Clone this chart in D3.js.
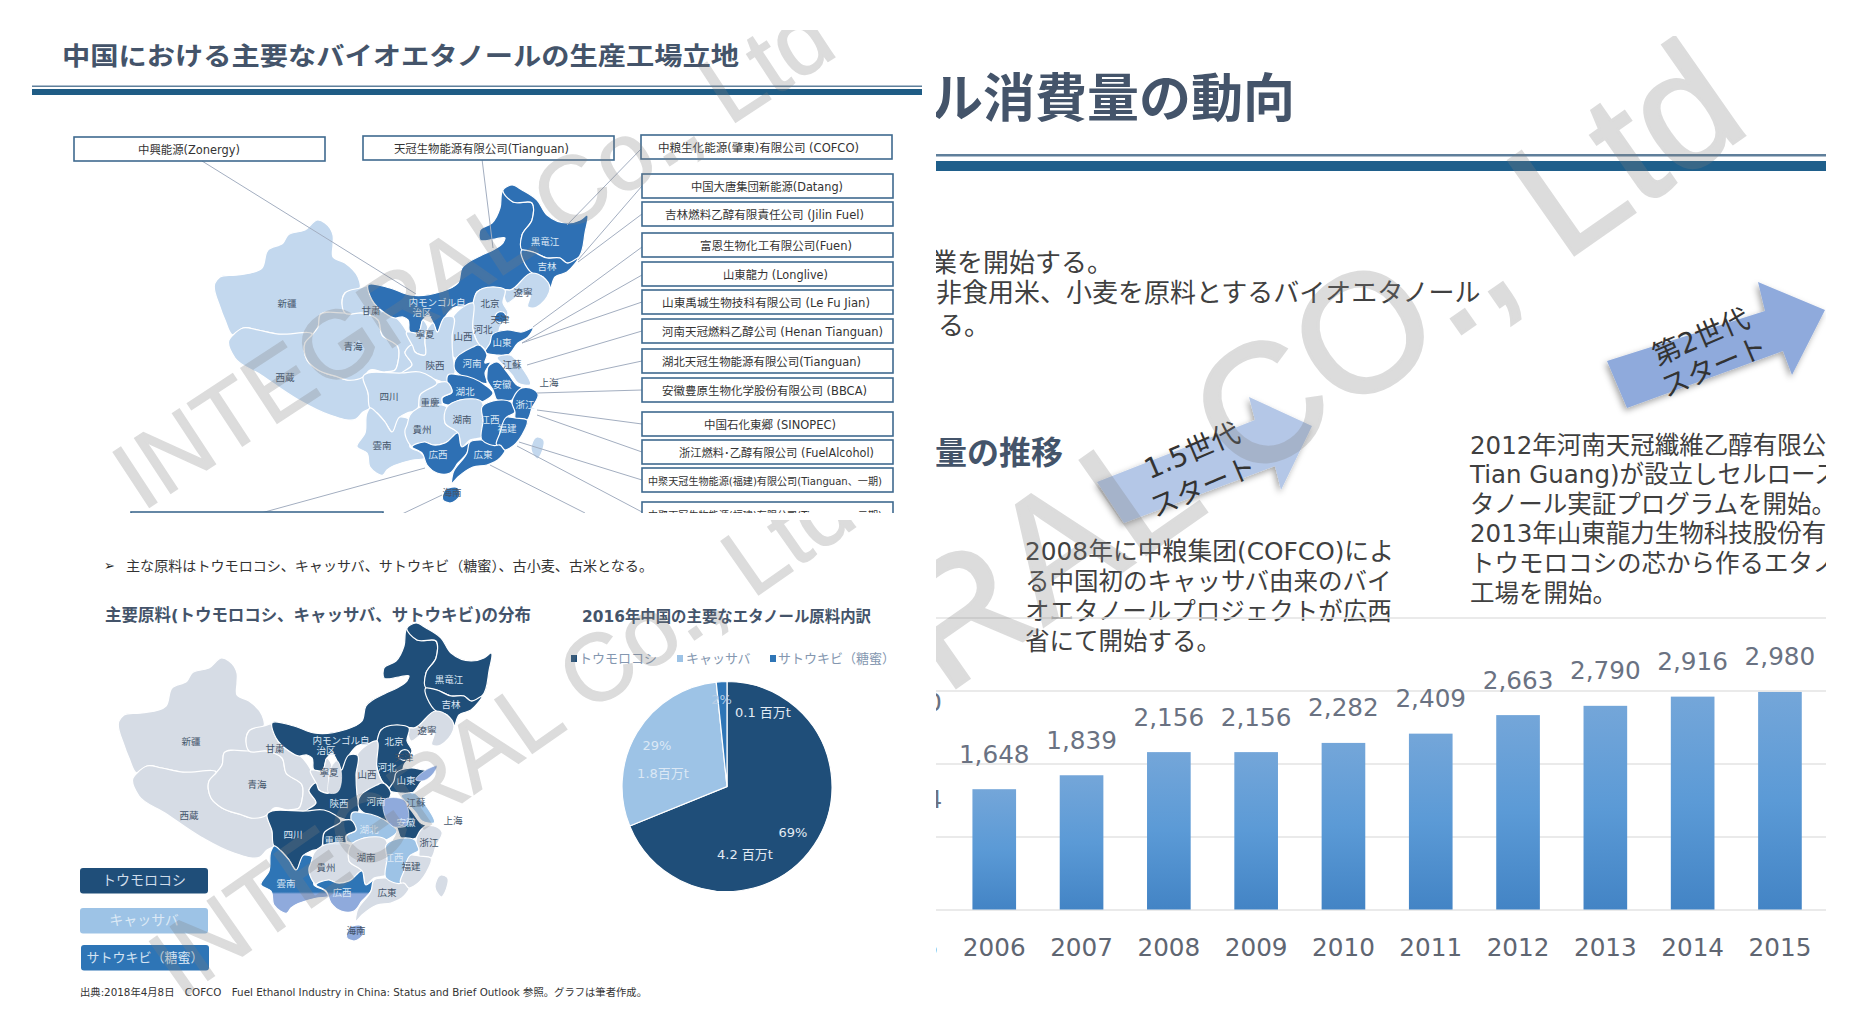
<!DOCTYPE html>
<html lang="ja"><head><meta charset="utf-8">
<script src="https://cdn.jsdelivr.net/npm/d3@7/dist/d3.min.js"></script>
<style>
html,body{margin:0;padding:0;background:#fff;overflow:hidden}
svg{display:block}
text{font-family:"DejaVu Sans","Noto Sans CJK JP",sans-serif}
</style></head><body><svg id="c" width="1862" height="1028"></svg>
<script>
// ---------- chart data ----------
const years = ["2005","2006","2007","2008","2009","2010","2011","2012","2013","2014","2015"];
const consumption = [1024,1648,1839,2156,2156,2282,2409,2663,2790,2916,2980];
const gridTicks = [0,1000,2000,3000,4000];
const pieNames = ["トウモロコシ","キャッサバ","サトウキビ（糖蜜）"];
const pieValues = [4.2,1.8,0.1];
const pieColors = ["#1f4e79","#9dc3e6","#2e75b6"];
const pieLabels = [["69%","4.2 百万t"],["29%","1.8百万t"],["2%","0.1 百万t"]];

const companies = [
 "中興能源(Zonergy)","天冠生物能源有限公司(Tianguan)","中粮生化能源(肇東)有限公司 (COFCO)",
 "中国大唐集団新能源(Datang)","吉林燃料乙醇有限責任公司 (Jilin Fuel)","富恩生物化工有限公司(Fuen)",
 "山東龍力 (Longlive)","山東禹城生物技科有限公司 (Le Fu Jian)","河南天冠燃料乙醇公司 (Henan Tianguan)",
 "湖北天冠生物能源有限公司(Tianguan)","安徽豊原生物化学股份有限公司 (BBCA)","中国石化東郷 (SINOPEC)",
 "浙江燃料･乙醇有限公司 (FuelAlcohol)","中聚天冠生物能源(福建)有限公司(Tianguan、一期)","中聚天冠生物能源(福建)有限公司(Tianguan、二期)"];
const companyBoxes = [[74,137],[363,136],[641,135],[642,174],[642,202],[642,233],[642,262],[642,290],[642,319],[642,349],[642,378],[642,412],[642,440],[642,468],[642,502]];
const companyTextSpan = [[138,240],[394,569],[658,859],[691,843],[665,864],[700,852],[723,828],[662,870],[662,883],[662,861],[662,867],[704,836],[679,874],[648,882],[648,882]];
const leaders = [[[202,161],[416,294]],[[482,159],[493,248]],[[641,149],[567,225]],[[642,186],[578,260]],[[642,214],[578,262]],[[642,247],[533,327]],[[642,275],[522,343]],[[642,302],[522,343]],[[642,331],[527,365]],[[642,361],[553,380]],[[642,390],[537,393]],[[642,424],[537,410]],[[642,452],[537,415]],[[642,480],[519,442]],[[642,512],[517,446]],[[261,513],[425,468]],[[402,514],[442,495]],[[585,513],[490,465]]];

// ---------- province outlines (map units) ----------
const provinces = {
 "新疆":[[318,220],[325,223],[333,235],[333,245],[333,257],[345,263],[358,277],[360,288],[345,293],[342,303],[345,313],[320,315],[318,327],[312,335],[277,334],[258,330],[243,328],[233,335],[225,320],[220,307],[215,283],[220,277],[238,275],[262,268],[268,250],[283,243],[288,235],[305,230]],
 "西蔵":[[233,335],[243,328],[258,330],[277,334],[312,335],[305,343],[307,360],[318,370],[338,377],[347,380],[363,377],[368,393],[370,408],[363,412],[356,419],[330,415],[297,399],[261,375],[235,358],[229,340]],
 "青海":[[312,335],[318,327],[320,315],[345,313],[363,313],[378,320],[382,335],[398,347],[398,362],[395,370],[385,372],[370,370],[363,377],[347,380],[338,377],[318,370],[307,360],[305,343]],
 "甘粛":[[345,293],[360,288],[368,286],[372,300],[385,313],[395,317],[407,332],[412,345],[405,352],[412,365],[402,373],[385,372],[395,370],[398,362],[398,347],[382,335],[378,320],[363,313],[345,313],[342,303]],
 "内モンゴル":[[368,285],[390,288],[410,295],[440,292],[458,283],[462,268],[482,255],[493,250],[503,243],[505,238],[495,239],[480,240],[480,230],[492,223],[500,208],[502,192],[503,190],[513,202],[532,203],[532,220],[522,235],[522,250],[532,273],[510,290],[493,287],[477,292],[473,303],[453,308],[445,317],[437,332],[433,323],[428,315],[423,320],[418,333],[410,332],[408,320],[403,317],[395,318],[385,313],[372,300]],
 "黒竜江":[[503,190],[512,185],[522,190],[537,200],[547,215],[567,223],[580,220],[587,215],[585,233],[578,258],[567,263],[560,258],[547,258],[533,252],[522,250],[522,235],[532,220],[532,203],[513,202]],
 "吉林":[[522,250],[533,252],[547,258],[560,258],[567,263],[578,258],[567,272],[555,277],[550,288],[543,277],[532,273]],
 "遼寧":[[510,290],[532,273],[543,277],[550,288],[547,297],[533,308],[528,307],[530,295],[520,295],[507,303],[505,290]],
 "河北":[[477,292],[493,287],[505,290],[503,303],[508,313],[505,320],[500,327],[498,335],[485,350],[478,343],[473,330],[473,303]],
 "天津":[[497,313],[503,312],[507,320],[498,322],[495,320]],
 "山東":[[490,343],[492,335],[507,330],[522,332],[533,328],[528,337],[518,343],[508,355],[497,355],[485,352]],
 "山西":[[453,317],[473,303],[473,330],[478,343],[485,350],[460,360],[453,357],[452,337]],
 "寧夏":[[410,332],[418,333],[423,320],[428,328],[425,340],[425,355],[415,352],[412,345],[407,332]],
 "陝西":[[428,328],[433,323],[437,332],[445,317],[453,317],[452,337],[453,357],[455,372],[450,382],[447,383],[437,380],[413,373],[402,373],[412,365],[405,352],[412,345],[415,352],[425,355],[425,340]],
 "河南":[[455,360],[473,347],[478,345],[487,355],[485,363],[490,362],[485,373],[487,383],[473,380],[460,375],[455,370]],
 "江蘇":[[497,358],[510,355],[520,365],[530,385],[518,383],[512,375],[503,365]],
 "安徽":[[488,367],[497,362],[507,372],[517,385],[522,388],[512,400],[497,400],[493,390],[487,380],[487,373]],
 "湖北":[[448,375],[460,375],[485,385],[493,393],[482,402],[460,400],[448,405],[442,402],[442,398],[452,392],[447,382]],
 "重慶":[[420,395],[437,383],[447,382],[452,392],[442,398],[442,405],[430,405],[420,408]],
 "四川":[[363,377],[402,373],[420,372],[437,383],[420,395],[417,410],[407,413],[400,417],[392,432],[385,422],[377,413],[370,408],[368,393]],
 "雲南":[[370,408],[377,413],[385,422],[392,432],[400,417],[410,420],[412,435],[410,447],[420,452],[425,458],[413,460],[387,470],[383,475],[370,467],[367,453],[357,447],[365,433],[367,413]],
 "貴州":[[407,425],[410,415],[418,408],[430,405],[442,405],[447,407],[445,423],[458,433],[445,443],[433,445],[425,442],[413,447],[405,430]],
 "湖南":[[447,407],[460,400],[482,402],[483,420],[482,437],[470,440],[462,447],[458,433],[445,423]],
 "広西":[[412,447],[425,442],[433,445],[445,443],[458,433],[462,447],[470,442],[467,453],[458,463],[450,473],[437,473],[427,465],[422,453]],
 "広東":[[470,442],[482,440],[500,445],[505,450],[500,458],[487,465],[473,467],[458,477],[452,483],[453,473],[467,453]],
 "江西":[[482,407],[493,401],[512,403],[515,412],[507,417],[500,433],[497,445],[482,440],[483,420]],
 "浙江":[[512,403],[522,388],[530,388],[538,394],[532,408],[527,420],[515,418],[515,412]],
 "福建":[[507,417],[515,418],[527,420],[522,435],[510,448],[505,450],[500,445],[497,445],[500,433]],
 "海南":[[445,490],[458,488],[460,495],[450,503],[443,500]],
 "台湾":[[537,437],[543,439],[537,459],[531,449]]
};
const factoryProvinces = ["内モンゴル","黒竜江","吉林","天津","山東","河南","安徽","湖北","江西","浙江","福建","広西","広東","海南"];
const cornProvinces = ["内モンゴル","黒竜江","吉林","河北","天津","山東","河南","安徽","四川","重慶","陝西"];
const cassavaProvinces = ["江蘇","湖北","江西"];
const sugarProvinces = ["雲南","広西"];
const paleSugarProvinces = ["海南"];
const provinceLabels = [["新疆",287,303],["西蔵",285,377],["青海",353,346],["甘粛",371,310],["内モンゴル自",437,302],["治区",422,312],["寧夏",425,334],["山西",463,336],["陝西",435,365],["河北",483,329],["北京",490,303],["天津",500,319],["遼寧",523,292],["吉林",547,266],["黒竜江",545,241],["山東",502,342],["河南",472,363],["江蘇",512,364],["上海",549,382],["安徽",502,384],["湖北",465,391],["四川",389,396],["重慶",430,402],["貴州",422,429],["雲南",382,445],["湖南",462,419],["江西",490,419],["浙江",525,404],["福建",507,428],["広西",438,454],["広東",483,454],["海南",452,492]];
const darkLabelsFactory = new Set(["内モンゴル自","治区","黒竜江","吉林","山東","河南","安徽","湖北","江西","浙江","福建","広西","広東"]);
const darkLabelsRaw = new Set(["内モンゴル自","治区","黒竜江","吉林","河北","北京","山東","河南","安徽","四川","重慶","陝西","雲南","広西","江西","湖北"]);

const svg = d3.select("#c");
const defs = svg.append("defs");
function clip(id,x,y,w,h){defs.append("clipPath").attr("id",id).append("rect").attr("x",x).attr("y",y).attr("width",w).attr("height",h);}
clip("p1",32,30,893,483); clip("p2",32,520,893,495); clip("p3",936,36,890,960);
const DARK="#44546a";
function txt(g,s,x,y,size,fill,o={}){const t=g.append("text").attr("x",x).attr("y",y).attr("font-size",size).attr("fill",fill)
  .attr("dominant-baseline","central").attr("text-anchor",o.anchor||"start").attr("font-weight",o.bold?700:400).text(s);
  if(o.rot!=null)t.attr("transform",`rotate(${o.rot} ${x} ${y})`); if(o.len)t.attr("textLength",o.len).attr("lengthAdjust","spacingAndGlyphs"); return t;}

function drawMap(g,dx,dy,fillOf){
  const mx=d3.scaleLinear().domain([0,1]).range([dx,dx+1]), my=d3.scaleLinear().domain([0,1]).range([dy,dy+1]);
  const line=d3.line().x(d=>mx(d[0])).y(d=>my(d[1])).curve(d3.curveCatmullRomClosed.alpha(.9));
  g.selectAll(null).data(Object.entries(provinces)).join("path").attr("d",d=>line(d[1])).attr("fill",d=>fillOf(d[0])).attr("stroke","#fff").attr("stroke-width",1.2).attr("stroke-linejoin","round");
  return {line,mx,my};
}
function drawLabels(g,dx,dy,labelFill){
  provinceLabels.forEach(([n,x,y])=>txt(g,n,x+dx,y+dy,9.5,labelFill(n),{anchor:"middle"}));
}

// ---------- panel 1 ----------
const p1=svg.append("g").attr("clip-path","url(#p1)");
txt(p1,"中国における主要なバイオエタノールの生産工場立地",62,56,25.5,DARK,{bold:true,len:677});
p1.append("rect").attr("x",32).attr("y",85.5).attr("width",890).attr("height",1.5).attr("fill","#5f7f9b");
p1.append("rect").attr("x",32).attr("y",89).attr("width",890).attr("height",6).attr("fill","#1f5c85");
const fac=new Set(factoryProvinces);
drawMap(p1.append("g"),0,0,n=>fac.has(n)?"#2e70b4":"#c3d8ee");
drawLabels(p1,0,0,n=>darkLabelsFactory.has(n)?"#dce8f5":"#44546a");
p1.selectAll(null).data(leaders).join("line").attr("x1",d=>d[0][0]).attr("y1",d=>d[0][1]).attr("x2",d=>d[1][0]).attr("y2",d=>d[1][1]).attr("stroke","#a3aec0").attr("stroke-width",1);
p1.selectAll(null).data(companyBoxes).join("rect").attr("x",d=>d[0]).attr("y",d=>d[1]).attr("width",251).attr("height",24).attr("fill","#fff").attr("stroke","#3f6a8f").attr("stroke-width",1.6);
p1.append("rect").attr("x",131).attr("y",512).attr("width",252).attr("height",24).attr("fill","#fff").attr("stroke","#3f6a8f").attr("stroke-width",1.6);
companies.forEach((c,i)=>{const b=companyBoxes[i],s=companyTextSpan[i];txt(p1,c,s[0],b[1]+13,i>=13?10:11.5,"#333",{len:s[1]-s[0]});});

// ---------- panel 2 ----------
const p2=svg.append("g").attr("clip-path","url(#p2)");
txt(p2,"➢",104,565,13,"#222");
txt(p2,"主な原料はトウモロコシ、キャッサバ、サトウキビ（糖蜜）、古小麦、古米となる。",126,566,14,"#333",{len:527});
txt(p2,"主要原料(トウモロコシ、キャッサバ、サトウキビ)の分布",105,615,16.5,DARK,{bold:true,len:426});
txt(p2,"2016年中国の主要なエタノール原料内訳",582,617,15.5,DARK,{bold:true,len:289});
const corn=new Set(cornProvinces),cas=new Set(cassavaProvinces),sug=new Set(sugarProvinces),pale=new Set(paleSugarProvinces);
const grad=defs.append("linearGradient").attr("id","split").attr("gradientUnits","userSpaceOnUse").attr("x1",0).attr("x2",0).attr("y1",892).attr("y2",894);
grad.append("stop").attr("offset",0).attr("stop-color","#2e75b6");grad.append("stop").attr("offset",1).attr("stop-color","#8faadc");
const m2=drawMap(p2.append("g"),-96,438,n=>corn.has(n)?"#1f4e79":cas.has(n)?"#9dc3e6":sug.has(n)?"url(#split)":pale.has(n)?"#8faadc":"#d6dce5");
const overlays=[[[[480,362],[500,362],[502,388],[488,388],[481,378]],"#8faadc"],[[[522,332],[533,328],[528,337],[518,343],[512,342]],"#8faadc"],[[[428,328],[433,323],[437,332],[432,355],[425,355],[425,340]],"#d6dce5"]];
p2.selectAll(null).data(overlays).join("path").attr("d",d=>m2.line(d[0])).attr("fill",d=>d[1]).attr("stroke","#fff").attr("stroke-width",.6);
drawLabels(p2,-96,438,n=>darkLabelsRaw.has(n)?"#dce8f5":"#44546a");
// buttons
const buttons=[[80,868,"#1f4e79","#cfdcea"],[80,908,"#9dc3e6","#dce9f5"],[81,945,"#2e75b6","#d5e4f3"]];
buttons.forEach((b,i)=>{p2.append("rect").attr("x",b[0]).attr("y",b[1]).attr("width",128).attr("height",25.5).attr("rx",3).attr("fill",b[2]);
  txt(p2,pieNames[i],b[0]+64,b[1]+12,i==2?13:14,b[3],{anchor:"middle"});});
// pie
const pieG=p2.append("g").attr("transform","translate(727,786.5)");
const arcs=d3.pie().sort(null)(pieValues);
const arc=d3.arc().innerRadius(0).outerRadius(105);
pieG.selectAll(null).data(arcs).join("path").attr("d",arc).attr("fill",(d,i)=>pieColors[i]).attr("stroke","#fff").attr("stroke-width",1.2);
const pieLabelPos=[[[793,832],[745,854]],[[657,745],[663,773.5]],[[721.5,699],[763,712]]];
pieLabels.forEach((pair,i)=>pair.forEach((s,j)=>{const p=pieLabelPos[i][j];txt(p2,s,p[0],p[1],13,(i==2&&j==0)?"#b5cde6":(i==0||i==2)?"#e3ebf4":"#dbe8f5",{anchor:"middle"});}));
// pie legend
[[571,579],[677,686],[770,778]].forEach((p,i)=>{p2.append("rect").attr("x",p[0]).attr("y",655).attr("width",6).attr("height",7).attr("fill",pieColors[i]);
 txt(p2,pieNames[i],p[1],658,13,"#8497b0");});
txt(p2,"出典:2018年4月8日　COFCO　Fuel Ethanol Industry in China: Status and Brief Outlook 参照。グラフは筆者作成。",80,992,10.5,"#333",{len:567});

// ---------- panel 3 ----------
const p3=svg.append("g").attr("clip-path","url(#p3)");
txt(p3,"ール消費量の動向",1295,99,52,DARK,{bold:true,anchor:"end"});
p3.append("rect").attr("x",936).attr("y",154).attr("width",890).attr("height",2.5).attr("fill","#5f7f9b");
p3.append("rect").attr("x",936).attr("y",161).attr("width",890).attr("height",10).attr("fill","#1f5f8b");
const bodyC="#404040";
txt(p3,"業を開始する。",931,263,26,bodyC);
txt(p3,"非食用米、小麦を原料とするバイオエタノール",936,293,26,bodyC);
txt(p3,"る。",938,326,26,bodyC);
txt(p3,"量の推移",1063,453,32,DARK,{bold:true,anchor:"end"});
["2008年に中粮集团(COFCO)によ","る中国初のキャッサバ由来のバイ","オエタノールプロジェクトが広西","省にて開始する。"].forEach((s,i)=>txt(p3,s,1025,551+i*30,24.5,bodyC,i==0?{len:369}:{}));
["2012年河南天冠纖維乙醇有限公司","Tian Guang)が設立しセルロース","タノール実証プログラムを開始。","2013年山東龍力生物科技股份有限","トウモロコシの芯から作るエタノール","工場を開始。"].forEach((s,i)=>txt(p3,s,1470,445+i*29.6,24.5,bodyC));

// bar chart
const x=d3.scaleBand().domain(years).range([863.3,1823.6]).paddingInner(.5).paddingOuter(.25);
const y=d3.scaleLinear().domain([0,4000]).range([909.5,617.5]);
p3.append("g").attr("transform","translate(936,0)").call(d3.axisLeft(y).tickValues(gridTicks).tickSize(-890).tickFormat(""))
 .call(g=>g.select(".domain").remove()).call(g=>g.selectAll("line").attr("stroke","#e3e3e3").attr("stroke-width",1.5));
const bg=defs.append("linearGradient").attr("id","bar").attr("x1",0).attr("x2",0).attr("y1",0).attr("y2",1);
bg.append("stop").attr("offset",0).attr("stop-color","#74a6d9");bg.append("stop").attr("offset",.5).attr("stop-color","#5b9ad6");bg.append("stop").attr("offset",1).attr("stop-color","#4384c5");
p3.selectAll(null).data(consumption).join("rect").attr("x",(d,i)=>x(years[i])).attr("width",x.bandwidth()).attr("y",d=>y(d)).attr("height",d=>y(0)-y(d)).attr("fill","url(#bar)");
p3.selectAll(null).data(consumption).join("text").attr("x",(d,i)=>x(years[i])+x.bandwidth()/2).attr("y",d=>y(d)-35).attr("text-anchor","middle").attr("dominant-baseline","central").attr("font-size",24.7).attr("fill","#6a7282").text(d3.format(","));
p3.append("g").attr("transform","translate(0,909.5)").call(d3.axisBottom(x).tickSize(0).tickPadding(29))
 .call(g=>g.select(".domain").remove()).call(g=>g.selectAll("text").attr("font-size",24.7).attr("fill","#5f6672").style("font-family","DejaVu Sans"));
txt(p3,"0",926,702,25,"#6a7282");

// arrows
const aShadow=defs.append("filter").attr("id","sh").attr("x","-20%").attr("y","-20%").attr("width","140%").attr("height","140%");
aShadow.append("feDropShadow").attr("dx",-2).attr("dy",3).attr("stdDeviation",3).attr("flood-color","#000").attr("flood-opacity",.35);
const arrowLine=d3.line();
p3.append("path").attr("d",arrowLine([[1097,482],[1255,420],[1249,397],[1312,426],[1281,490],[1275,466],[1124,523]])+"Z").attr("fill","#b4c7e7").attr("filter","url(#sh)");
p3.append("path").attr("d",arrowLine([[1607,361],[1765,311],[1758,282],[1825,310],[1792,375],[1783,351],[1627,408]])+"Z").attr("fill","#8faadc").attr("filter","url(#sh)");
txt(p3,"1.5世代",1192,451,28,"#333",{anchor:"middle",rot:-23});
txt(p3,"スタート",1203,487,28,"#333",{anchor:"middle",rot:-23});
txt(p3,"第2世代",1701,337,28,"#333",{anchor:"middle",rot:-23});
txt(p3,"スタート",1714,367,28,"#333",{anchor:"middle",rot:-23});

// ---------- watermarks ----------
function wm(parent,s,xx,yy,size,rot,sw){parent.append("g").attr("opacity",.27).append("text").attr("x",xx).attr("y",yy).attr("font-size",size).attr("fill","#7f7f7f").attr("stroke","#7f7f7f").attr("stroke-width",sw).style("font-family","Liberation Sans").attr("transform",`rotate(${rot} ${xx} ${yy})`).text(s);}
wm(p1,"INTEGRAL Co., Ltd",142,512,95.5,-33.3,1.5);
wm(p2,"INTEGRAL Co., Ltd",180,1000,95,-35,1.5);
wm(p3,"INTEGRAL CO., Ltd",527,988,167,-35,3);
</script></body></html>
